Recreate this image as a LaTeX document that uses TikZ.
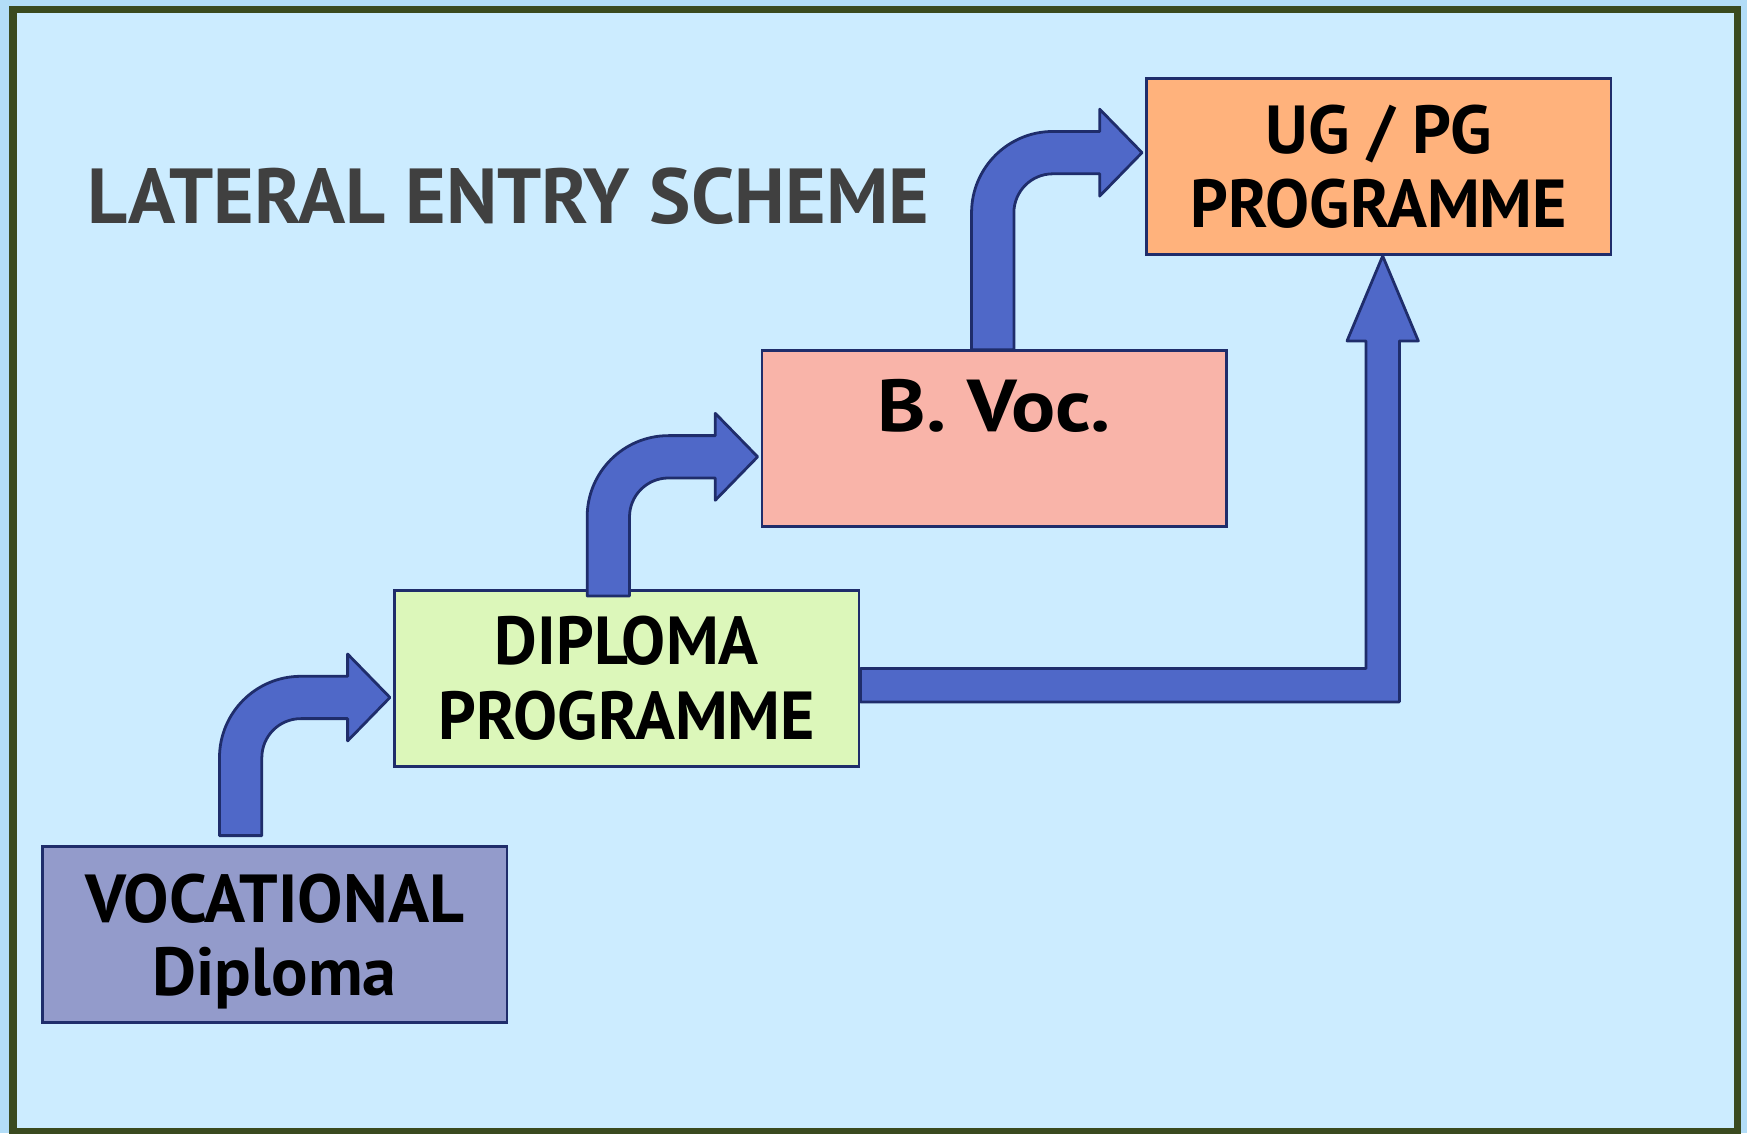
\documentclass[tikz,border=0pt]{standalone}
\usepackage{fontspec}
\setmainfont{PT Sans}
\usetikzlibrary{calc}
\definecolor{bgc}{HTML}{CCECFF}
\definecolor{edgebg}{HTML}{B3DDF7}
\definecolor{framec}{HTML}{3A4A1F}
\definecolor{navy}{HTML}{1F2D6B}
\definecolor{arrc}{HTML}{4F68C8}
\definecolor{vocc}{HTML}{939BCB}
\definecolor{dipc}{HTML}{DCF7BA}
\definecolor{bvocc}{HTML}{F9B4A9}
\definecolor{ugc}{HTML}{FFB27C}
\definecolor{titlec}{HTML}{404040}
\newcommand\bentarr[3]{%
  \filldraw[arrowsty] (#1,#2) -- (#1,{#3+73})
    arc[start angle=180,end angle=270,radius=73]
    -- ({#1+115},#3) -- ({#1+115},{#3-20}) -- ({#1+153},{#3+19})
    -- ({#1+115},{#3+58}) -- ({#1+115},{#3+38}) -- ({#1+73},{#3+38})
    arc[start angle=270,end angle=180,radius=35]
    -- ({#1+38},#2) -- cycle;}
\begin{document}
\begin{tikzpicture}[x=1pt,y=-1pt,
  box/.style={draw=navy, line width=2.5pt, minimum width=417pt, minimum height=158pt,
    inner sep=0pt, align=center, font=\bfseries\fontsize{61}{67}\selectfont},
  arrowsty/.style={fill=arrc, draw=navy, line width=2.5pt, line join=round}]
\useasboundingbox (0,0) rectangle (1568,1017);
\fill[edgebg] (0,0) rectangle (1568,1017);
\filldraw[fill=bgc, draw=framec, line width=7pt] (11.5,8.5) rectangle (1559.5,1016);
\node[anchor=west, inner sep=0pt, text=titlec, font=\bfseries\fontsize{70}{80}\selectfont] (title) at (78,176) {LATERAL ENTRY SCHEME};
\node[box, fill=vocc, text depth=0pt] (voc) at (246.5,839) {VOCATIONAL\\[-2pt]Diploma};
\node[box, fill=dipc] (dip) at (562.5,609) {\scalebox{0.97}[1]{DIPLOMA}\\\scalebox{0.97}[1]{PROGRAMME}};
\node[box, fill=bvocc] (bvoc) at (892.5,393.5) {};
\node[inner sep=0pt, font=\bfseries\fontsize{66}{70}\selectfont] (bvoctext) at ($(bvoc.north)+(0,51)$) {\scalebox{1.12}[1]{B. Voc.}};
\node[box, fill=ugc] (ug) at (1237.5,149.5) {UG / PG\\\scalebox{0.97}[1]{PROGRAMME}};
\bentarr{197}{750}{607}
\bentarr{527}{535}{391}
\bentarr{872}{314}{118}
\filldraw[arrowsty] (dip.east |- 0,600) -- (1226,600) -- (1226,306) -- (1209,306)
  -- (ug.south -| 1241,0) -- (1273,306) -- (1256,306) -- (1256,630) -- (dip.east |- 0,630) -- cycle;
\end{tikzpicture}
\end{document}
